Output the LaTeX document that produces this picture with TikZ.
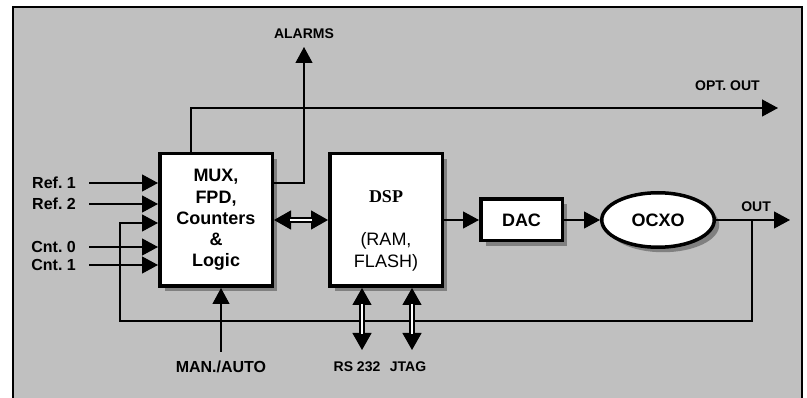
\documentclass[tikz,border=0pt]{standalone}
\usepackage{fontspec}
\setmainfont{Liberation Sans}
\newfontfamily\serifbold{Liberation Serif}
\usetikzlibrary{arrows.meta,positioning,shapes.geometric,shadows}
\definecolor{PanelGray}{HTML}{C0C0C0}
\definecolor{ShadowGray}{HTML}{808080}
\tikzset{%
  block/.style={draw=black,line width=3.5pt,fill=white,align=center,
    minimum width=112.5pt,minimum height=132.5pt,inner sep=0pt,
    font=\fontsize{18}{21.25}\selectfont\bfseries,
    drop shadow={shadow xshift=5pt,shadow yshift=-5pt,fill=ShadowGray,opacity=1}},
  smallblock/.style={block,minimum width=81.5pt,minimum height=41.5pt},
  oval/.style={block,ellipse,minimum width=112.5pt,minimum height=54.5pt},
  inlabel/.style={inner sep=0pt,font=\fontsize{16}{19}\selectfont\bfseries},
  outlabel/.style={inner sep=0pt,font=\fontsize{14}{16}\selectfont\bfseries},
  sig/.style={-{Triangle[length=16pt,width=17pt]},line width=1.2pt},
  bustips/.style={{Triangle[length=17pt,width=19pt]}-{Triangle[length=17pt,width=19pt]},
    line width=1.2pt},
  busline/.style={double,double distance=2.5pt,line width=1.3pt,
    shorten <=16pt,shorten >=16pt}
}

\begin{document}
\begin{tikzpicture}[x=1pt,y=-1pt,node distance=54pt]
  \useasboundingbox (0,0) rectangle (807,398);
  \draw[fill=PanelGray,line width=1.2pt] (13,7) rectangle (802,410);

  \node[block] (mux) at (216,220) {MUX,\\FPD,\\Counters\\\&\\Logic};
  \node[block, right=of mux] (dsp) {};
  \node[align=center, inner sep=0pt, font=\fontsize{18}{21.5}\selectfont,
    yshift=-11pt] (dsptext) at (dsp) {{\serifbold\bfseries DSP}\\[21.5pt](RAM,\\FLASH)};
  \node[smallblock, right=35pt of dsp] (dac) {DAC};
  \node[oval, right=36pt of dac] (ocxo) {OCXO};

  \node[inlabel, anchor=east] (ref1) at (76,183) {Ref.~1};
  \node[inlabel, anchor=east] (ref2) at (76,204) {Ref.~2};
  \node[inlabel, anchor=east] (cnt0) at (76,247) {Cnt.~0};
  \node[inlabel, anchor=east] (cnt1) at (76,265) {Cnt.~1};
  \node[inlabel] (manauto) at (221,367) {MAN./AUTO};
  \node[outlabel] (rs232) at (357,367) {RS 232};
  \node[outlabel] (jtag) at (408,367) {JTAG};

  \coordinate (alarmtip) at (304,47);
  \coordinate (opttip) at (778,108);
  \coordinate (outtip) at (790,220);
  \coordinate (fb) at (752,220);
  \coordinate (fbcorner) at (120,321);
  \coordinate (rsend) at (362,350);
  \coordinate (jtend) at (412,350);
  \node[outlabel, above=8pt of alarmtip] (alarms) {ALARMS};
  \node[outlabel, above left=17pt and 18pt of opttip] (optout) {OPT. OUT};
  \node[outlabel, above left=8pt and 19pt of outtip] (out) {OUT};

  \draw[sig, shorten <=13pt] (ref1.east) -- (ref1.east -| mux.west);
  \draw[sig, shorten <=13pt] (ref2.east) -- (ref2.east -| mux.west);
  \draw[sig, shorten <=13pt] (cnt0.east) -- (cnt0.east -| mux.west);
  \draw[sig, shorten <=13pt] (cnt1.east) -- (cnt1.east -| mux.west);
  \draw[sig, shorten <=9pt] (manauto.north) -- (manauto.north |- mux.south);
  \draw[sig] ([yshift=37pt]mux.east) -| (alarmtip);
  \draw[sig] ([xshift=-25pt]mux.north) |- (opttip);
  \draw[sig] (dsp) -- (dac);
  \draw[sig] (dac) -- (ocxo);
  \draw[sig] (ocxo) -- (outtip);
  \draw[sig] (fb) |- (fbcorner) |- ([yshift=-3pt]mux.west);

  % double buses: solid tips first, hollow line on top
  \draw[bustips] (mux) -- (dsp);
  \draw[busline] (mux) -- (dsp);
  \draw[bustips] (rsend |- dsp.south) -- (rsend);
  \draw[busline] (rsend |- dsp.south) -- (rsend);
  \draw[bustips] (jtend |- dsp.south) -- (jtend);
  \draw[busline] (jtend |- dsp.south) -- (jtend);
\end{tikzpicture}
\end{document}
